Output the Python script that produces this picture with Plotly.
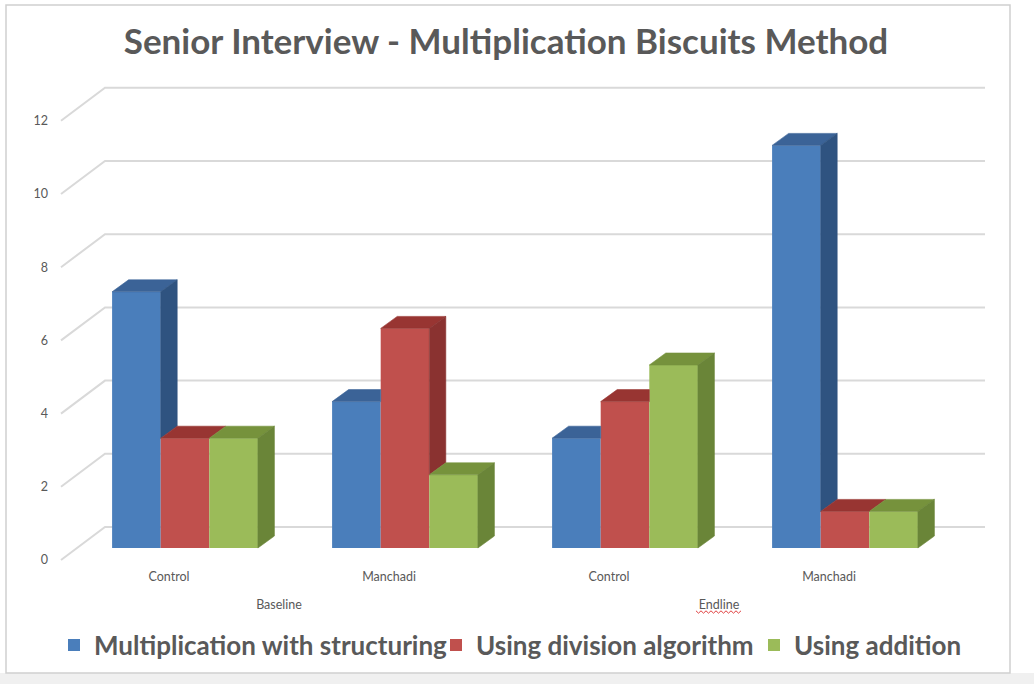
import plotly.graph_objects as go

# ---------------- data ----------------
categories = ["Control", "Manchadi", "Control", "Manchadi"]
phases = ["Baseline", "Endline"]
phase_of_category = [0, 0, 1, 1]
series_names = [
    "Multiplication with structuring",
    "Using division algorithm",
    "Using addition",
]
multiplication_with_structuring = [7, 4, 3, 11]
using_division_algorithm = [3, 6, 4, 1]
using_addition = [3, 2, 5, 1]
series_values = [multiplication_with_structuring, using_division_algorithm, using_addition]
y_tick_values = [0, 2, 4, 6, 8, 10, 12]
title_text = "Senior Interview - Multiplication Biscuits Method"

# ---------------- styling ----------------
front_colors = ["#4a7ebb", "#c0504d", "#9bbb59"]
top_colors = ["#3b6397", "#983532", "#76923c"]
side_colors = ["#2f5380", "#8a3230", "#6a8538"]
text_grey = "#595959"
grid_grey = "#d9d9d9"

# ---------------- layout geometry (pixels) ----------------
W, H = 1034, 684
PLOT_L, PLOT_R, PLOT_T, PLOT_B = 52, 1000, 70, 565
BAR_W_PX = 48.6            # width of one bar
PX_PER_UNIT = 36.6         # vertical pixels per value unit
GROUP_PITCH_PX = 220.0     # distance between clusters
FIRST_GROUP_CX_PX = 185.0  # centre of the first cluster on the bars' front plane
ZERO_PY = 548.0            # value 0 on the bars' front plane
FLOOR_TO_BAR = (16.0, 12.0)   # floor front edge -> bar front (right, up)
BAR_DEPTH = (16.5, 12.0)      # bar front -> bar back
BAR_TO_WALL = (12.0, 9.0)     # bar back -> back wall
FLOOR_LEFT_PX, WALL_LEFT_PX, WALL_RIGHT_PX = 61.0, 105.0, 985.0


def xd(px):
    """pixel column -> x data (one unit = one bar width)"""
    return (px - FIRST_GROUP_CX_PX) / BAR_W_PX


x_range = [xd(PLOT_L), xd(PLOT_R)]
y_range = [(ZERO_PY - PLOT_B) / PX_PER_UNIT, (ZERO_PY - PLOT_T) / PX_PER_UNIT]
label_zero_py = ZERO_PY + FLOOR_TO_BAR[1]
y2_range = [(label_zero_py - PLOT_B) / PX_PER_UNIT, (label_zero_py - PLOT_T) / PX_PER_UNIT]

DX = BAR_DEPTH[0] / BAR_W_PX
DY = BAR_DEPTH[1] / PX_PER_UNIT
group_centres = [i * GROUP_PITCH_PX / BAR_W_PX for i in range(len(categories))]
floor_shift = FLOOR_TO_BAR[0] / BAR_W_PX
category_ticks = [c - floor_shift for c in group_centres]
phase_ticks = []
for p in range(len(phases)):
    xs = [category_ticks[i] for i in range(len(categories)) if phase_of_category[i] == p]
    phase_ticks.append(sum(xs) / len(xs))

fig = go.Figure()

# front faces of the columns
legend_ids = ["legend", "legend2", "legend3"]
for j, name in enumerate(series_names):
    xs = [group_centres[i] + (j - 1) for i in range(len(categories))]
    fig.add_trace(go.Bar(
        x=xs, y=series_values[j], width=1.0, base=0,
        name=name, legend=legend_ids[j],
        marker=dict(color=front_colors[j], line=dict(width=0)),
        hovertemplate=name + ": %{y}<extra></extra>",
    ))

# top and side faces, drawn cluster by cluster from left to right
for i in range(len(categories)):
    for j in range(len(series_names)):
        v = series_values[j][i]
        c = group_centres[i] + (j - 1)
        L, R = c - 0.5, c + 0.5
        hn = series_values[j + 1][i] if j + 1 < len(series_names) else None
        # top face (clipped where the taller right neighbour's front hides it)
        if hn is not None and hn > v:
            tx = [L, R, R, L + DX, L]
        else:
            tx = [L, R, R + DX, L + DX, L]
        ty = [v, v, v + DY, v + DY, v]
        fig.add_trace(go.Scatter(
            x=tx, y=ty, mode="lines", fill="toself",
            fillcolor=top_colors[j], line=dict(width=0.6, color=top_colors[j]),
            showlegend=False, hoverinfo="skip",
        ))
        # right side face (only the part above the right neighbour)
        low = 0 if hn is None else hn
        if v > low:
            sx = [R, R, R + DX, R + DX, R]
            sy = [low, v, v + DY, low + DY, low]
            fig.add_trace(go.Scatter(
                x=sx, y=sy, mode="lines", fill="toself",
                fillcolor=side_colors[j], line=dict(width=0.6, color=side_colors[j]),
                showlegend=False, hoverinfo="skip",
            ))

# invisible trace carrying the label axes
fig.add_trace(go.Scatter(
    x=[x_range[0], x_range[1]], y=[y2_range[0], y2_range[1]],
    xaxis="x2", yaxis="y2", mode="markers",
    marker=dict(opacity=0), showlegend=False, hoverinfo="skip",
))

# gridlines: left wall diagonal + back wall horizontal
shapes = []
wall_rise = (BAR_DEPTH[1] + BAR_TO_WALL[1]) / PX_PER_UNIT
floor_drop = FLOOR_TO_BAR[1] / PX_PER_UNIT
for v in y_tick_values:
    path = "M {:.4f},{:.4f} L {:.4f},{:.4f} L {:.4f},{:.4f}".format(
        xd(FLOOR_LEFT_PX), v - floor_drop,
        xd(WALL_LEFT_PX), v + wall_rise,
        xd(WALL_RIGHT_PX), v + wall_rise,
    )
    shapes.append(dict(type="path", path=path, xref="x", yref="y", layer="below",
                       line=dict(color=grid_grey, width=2)))

# chart frame and the strip below it
shapes.append(dict(type="rect", xref="paper", yref="paper",
                   x0=0, x1=1, y0=0, y1=1 - 673 / H,
                   fillcolor="#f0f0f0", line=dict(width=0), layer="below"))
shapes.append(dict(type="rect", xref="paper", yref="paper",
                   x0=6 / W, x1=1010 / W, y0=1 - 673 / H, y1=1 - 5 / H,
                   fillcolor="rgba(0,0,0,0)", line=dict(color="#d0d0d0", width=1.5),
                   layer="below"))

# spell-check squiggle under "Endline"
end_px = FIRST_GROUP_CX_PX + phase_ticks[1] * BAR_W_PX
sq_y = 612.0
pts = []
k = 0
xpx = end_px - 23
while xpx <= end_px + 23:
    pts.append((xpx / W, 1 - (sq_y + (1.2 if k % 2 else -1.2)) / H))
    xpx += 2.5
    k += 1
sq_path = "M " + " L ".join("{:.5f},{:.5f}".format(a, b) for a, b in pts)
shapes.append(dict(type="path", path=sq_path, xref="paper", yref="paper",
                   line=dict(color="#e04040", width=1)))

axis_font = dict(family="Lato", size=12.5, color=text_grey)
legend_font = dict(family="Lato", size=26, color=text_grey, weight="bold")
legend_text_starts = [93, 475, 793]
legends = {}
for lid, tx in zip(legend_ids, legend_text_starts):
    legends[lid] = dict(
        x=(tx - 39) / W, y=1 - 645 / H, xanchor="left", yanchor="middle",
        orientation="h", font=legend_font, bgcolor="rgba(0,0,0,0)",
        borderwidth=0, itemclick=False, itemdoubleclick=False,
    )

fig.update_layout(
    width=W, height=H,
    margin=dict(l=0, r=0, t=0, b=0, autoexpand=False),
    paper_bgcolor="white", plot_bgcolor="rgba(0,0,0,0)",
    barmode="overlay",
    showlegend=True,
    title=dict(text=title_text, x=506 / W, y=1 - 42 / H, xanchor="center", yanchor="middle",
               xref="paper", yref="paper",
               font=dict(family="Lato", size=35, color=text_grey, weight="bold")),
    xaxis=dict(domain=[PLOT_L / W, PLOT_R / W], range=x_range, showgrid=False,
               zeroline=False, showline=False, ticks="",
               tickmode="array", tickvals=category_ticks, ticktext=categories,
               tickfont=axis_font, ticklabelstandoff=2, fixedrange=True),
    yaxis=dict(domain=[1 - PLOT_B / H, 1 - PLOT_T / H], range=y_range, showgrid=False,
               zeroline=False, showline=False, showticklabels=False, ticks="",
               fixedrange=True),
    xaxis2=dict(overlaying="x", anchor="y2", side="bottom", range=x_range,
                showgrid=False, zeroline=False, showline=False, ticks="",
                tickmode="array", tickvals=phase_ticks, ticktext=phases,
                tickfont=axis_font, ticklabelstandoff=30, fixedrange=True),
    yaxis2=dict(overlaying="y", anchor="x2", side="left", range=y2_range,
                showgrid=False, zeroline=False, showline=False, ticks="",
                tickmode="array", tickvals=y_tick_values,
                ticktext=[str(v) for v in y_tick_values],
                tickfont=axis_font, ticklabelstandoff=3, fixedrange=True),
    shapes=shapes,
    **legends,
)

fig.write_html("out.html")
